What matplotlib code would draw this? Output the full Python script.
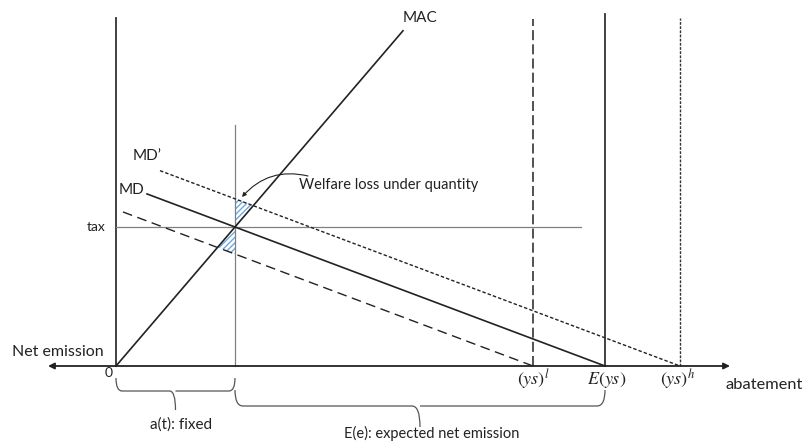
import matplotlib
matplotlib.use("Agg")
import matplotlib.pyplot as plt
from matplotlib.path import Path
from matplotlib.patches import PathPatch, Polygon
import numpy as np

plt.rcParams['font.family'] = ['Lato', 'DejaVu Sans']
plt.rcParams['mathtext.fontset'] = 'stix'
plt.rcParams['hatch.linewidth'] = 1.0

# ---- conceptual values (abatement on x, price on y) ----
a_t = 119          # fixed abatement a(t)
tax = 139          # tax level
E_ys = 489         # expected ys
ys_l = 417         # low ys
ys_h = 564         # high ys
mac_slope = tax / a_t
md_slope = tax / (E_ys - a_t)
mac_end = 287      # where MAC line stops
md_start = 31      # left start of MD
mdp_start = 44     # left start of MD'
mdl_start = 7      # left start of lower dashed MD
top = 348          # height of vertical lines
a_t_top = 241
tax_end = 465
axis_left, axis_right = -68, 614

fig = plt.figure(figsize=(8.06, 4.45), dpi=100)
ax = fig.add_axes([0, 0, 1, 1])
ax.set_xlim(-116, 690)
ax.set_ylim(-79, 366)
ax.axis('off')

dark = '#222222'
gray = '#808080'

# horizontal axis with arrows
ax.annotate('', xy=(axis_right, 0), xytext=(axis_left, 0),
            arrowprops=dict(arrowstyle='<|-|>', color=dark, lw=1.3,
                            mutation_scale=9, shrinkA=0, shrinkB=0))

# verticals
ax.plot([0, 0], [0, top], color='#333333', lw=1.3)
ax.plot([E_ys, E_ys], [0, top + 4], color='#333333', lw=1.3)
ax.plot([ys_l, ys_l], [0, top - 1], color='#333333', lw=1.2, dashes=(6, 2.5))
ax.plot([ys_h, ys_h], [0, top], color='#333333', lw=1.0, dashes=(2, 1))
ax.plot([a_t, a_t], [0, a_t_top], color=gray, lw=0.9)

# tax line
ax.plot([0, tax_end], [tax, tax], color=gray, lw=0.9)

# MAC
xs = np.array([0, mac_end])
ax.plot(xs, mac_slope * xs, color=dark, lw=1.2)

# MD lines
def md(x, x0):
    return md_slope * (x0 - np.asarray(x, dtype=float))

ax.plot([md_start, E_ys], md([md_start, E_ys], E_ys), color=dark, lw=1.2)
ax.plot([mdp_start, ys_h], md([mdp_start, ys_h], ys_h), color=dark, lw=1.0, dashes=(2.5, 1.5))
ax.plot([mdl_start, ys_l], md([mdl_start, ys_l], ys_l), color=dark, lw=1.0, dashes=(7, 4))

# hatched welfare-loss triangles
hatch_col = '#6fa8dc'
for x0 in (ys_h, ys_l):
    xi = md_slope * x0 / (mac_slope + md_slope)
    tri = Polygon([(a_t, tax), (a_t, md(a_t, x0)), (xi, mac_slope * xi)],
                  closed=True, facecolor='none', edgecolor=hatch_col,
                  hatch='//////', lw=0)
    ax.add_patch(tri)

# braces
def brace(x0, x1, y_top, y_line, y_tip, r):
    xm = (x0 + x1) / 2
    verts = [(x0, y_top), (x0, y_line), (x0 + r, y_line),
             (xm - r, y_line),
             (xm, y_line), (xm, y_tip),
             (xm, y_line), (xm + r, y_line),
             (x1 - r, y_line),
             (x1, y_line), (x1, y_top)]
    codes = [Path.MOVETO, Path.CURVE3, Path.CURVE3,
             Path.LINETO,
             Path.CURVE3, Path.CURVE3,
             Path.MOVETO, Path.CURVE3,
             Path.LINETO,
             Path.CURVE3, Path.CURVE3]
    ax.add_patch(PathPatch(Path(verts, codes), facecolor='none',
                           edgecolor='#555555', lw=0.9))

brace(0, a_t, -12, -25, -44, 6)
brace(a_t, E_ys, -24, -40, -61, 8)

# texts
ax.text(287, 348, 'MAC', fontsize=11, ha='left', va='center', color=dark)
ax.text(31, 210, 'MD\u2019', fontsize=11, ha='center', va='center', color=dark)
ax.text(16, 176, 'MD', fontsize=11, ha='center', va='center', color=dark)
ax.text(-11, tax, 'tax', fontsize=10, ha='right', va='center', color=dark)
ax.text(-104, 14, 'Net emission', fontsize=11.5, ha='left', va='center', color=dark)
ax.text(-7, -7, '0', fontsize=10, ha='center', va='center', color=dark)
ax.text(609, -19, 'abatement', fontsize=11.8, ha='left', va='center', color=dark)
ax.text(ys_l, -14, r'$(ys)^l$', fontsize=13, ha='center', va='center', color=dark)
ax.text(E_ys + 2, -14, r'$E(ys)$', fontsize=13, ha='center', va='center', color=dark)
ax.text(ys_h - 2, -14, r'$(ys)^h$', fontsize=13, ha='center', va='center', color=dark)
ax.text(65, -59, 'a(t): fixed', fontsize=11, ha='center', va='center', color=dark)
ax.text(316, -67, 'E(e): expected net emission', fontsize=10.5, ha='center', va='center', color=dark)

ax.text(183, 181, 'Welfare loss under quantity', fontsize=10.5, ha='left', va='center', color=dark)
ax.annotate('', xy=(126, 169), xytext=(192, 190),
            arrowprops=dict(arrowstyle='-|>', color=dark, lw=0.8,
                            mutation_scale=6, shrinkA=0, shrinkB=0,
                            connectionstyle='arc3,rad=0.3'))

fig.savefig('out.png', dpi=100)
